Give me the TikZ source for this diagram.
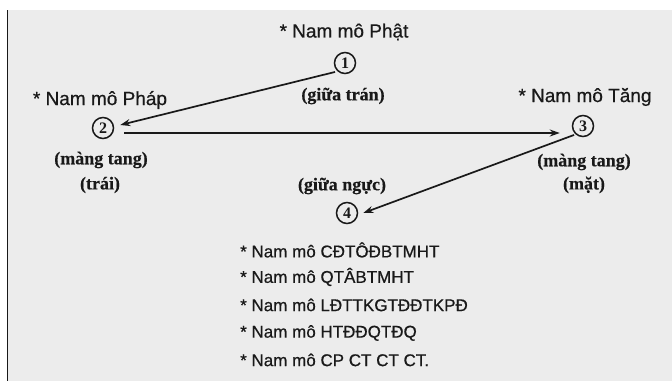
\documentclass[tikz,border=0pt]{standalone}
\usepackage{fontspec}
\setmainfont{Liberation Serif}
\setsansfont{Liberation Sans}
\newfontfamily\inksans[FakeBold=0.6]{Liberation Sans}
\newfontfamily\inkserif[FakeBold=0.4]{Liberation Serif}
\usetikzlibrary{arrows.meta,calc}
\definecolor{paper}{RGB}{236,236,236}
\definecolor{ink}{RGB}{25,25,25}
\tikzset{
  invoc/.style={font=\inksans\fontsize{19}{21}\selectfont, text=ink, inner sep=0pt},
  place/.style={font=\inkserif\bfseries\fontsize{18}{20}\selectfont, text=ink, inner sep=0pt},
  num/.style={circle, draw=ink, line width=1.5pt, minimum size=21pt, inner sep=0pt,
              font=\rmfamily\bfseries\fontsize{16}{16}\selectfont, text=ink},
  item/.style={font=\inksans\fontsize{17}{19}\selectfont, text=ink, inner sep=0pt, anchor=west},
  link/.style={draw=ink, line width=1.7pt, -{Stealth[length=10pt,width=7pt]}},
}
\begin{document}
\begin{tikzpicture}[x=1pt,y=-1pt]
  % page and scan edge
  \useasboundingbox (0,0) rectangle (672,381);
  \fill[white] (0,0) rectangle (672,381);
  \fill[paper] (8,10) rectangle (672,381);
  \draw[ink, line width=1.6pt] (7.5,10) -- (7.5,381);

  % the four points
  \node[invoc] (phat) at (344,32) {* Nam mô Phật};
  \node[num] (c1) at (345,63) {1};
  \node[place] (tran) at (343,96) {(giữa trán)};

  \node[invoc] (phap) at (100,100) {* Nam mô Pháp};
  \node[num] (c2) at (103,128) {2};
  \node[place] (tangl) at (101,160) {(màng tang)};
  \node[place] (trai) at (100,185) {(trái)};

  \node[invoc] (tang) at (585,97) {* Nam mô Tăng};
  \node[num] (c3) at (583,126) {3};
  \node[place] (tangr) at (584,162) {(màng tang)};
  \node[place] (mat) at (584,185) {(mặt)};

  \node[place] (nguc) at (342,186) {(giữa ngực)};
  \node[num] (c4) at (347,213) {4};

  % movement of the hand
  \draw[link] ($(c1.south west)+(-2,1)$) -- ($(c2.east)+(6,-3)$);
  \draw[link, line width=2.3pt] ($(c2.east)+(10,5)$) -- ($(c3.west)+(-12,7)$);
  \draw[link] ($(c3.south west)+(-1,1)$) -- ($(c4.east)+(5,0)$);

  % the five invocations
  \node[item] (l1) at (240,250) {* Nam mô CĐTÔĐBTMHT};
  \node[item] (l2) at (240,277) {* Nam mô QTÂBTMHT};
  \node[item] (l3) at (240,305) {* Nam mô LĐTTKGTĐĐTKPĐ};
  \node[item] (l4) at (240,333) {* Nam mô HTĐĐQTĐQ};
  \node[item] (l5) at (240,360) {* Nam mô CP CT CT CT.};
\end{tikzpicture}
\end{document}
